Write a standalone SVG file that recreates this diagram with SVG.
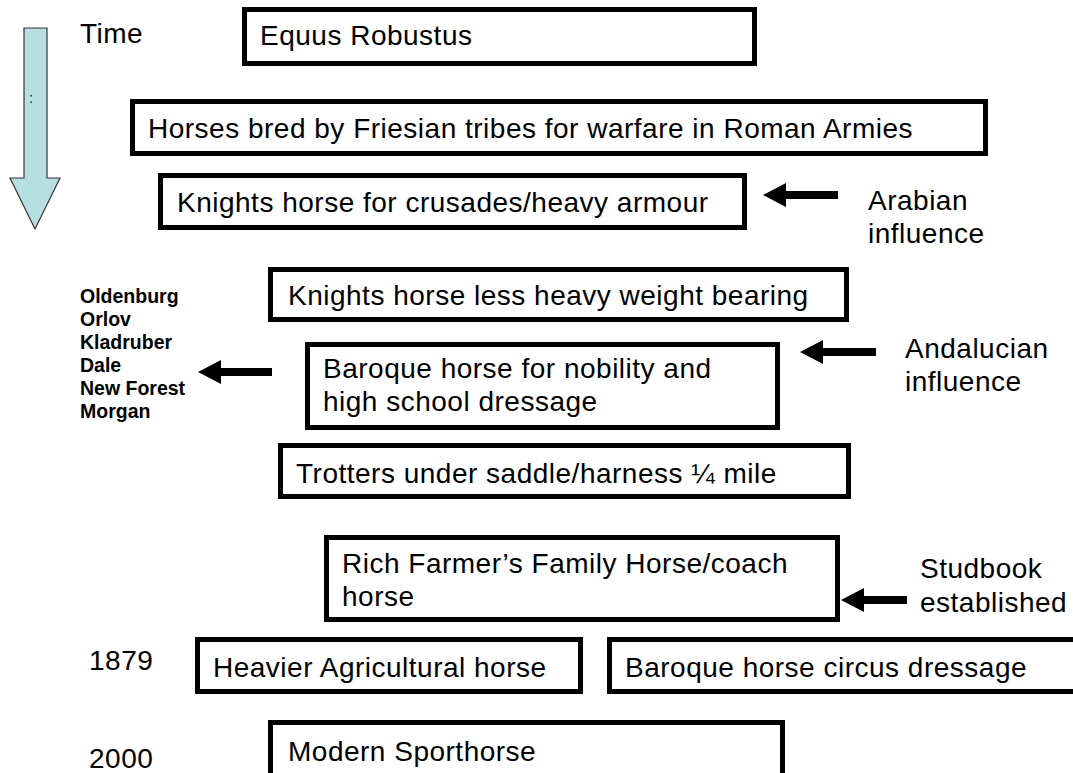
<svg xmlns="http://www.w3.org/2000/svg" width="1073" height="773" viewBox="0 0 1073 773">
<style>
.box{fill:#fff;stroke:#000;stroke-width:5}
.t{font-family:"Liberation Sans",Arial,sans-serif;font-size:28px;letter-spacing:0.5px;fill:#000}
.l{font-family:"Liberation Sans",Arial,sans-serif;font-size:19.5px;font-weight:bold;fill:#000}
.arr{fill:#000}
</style>
<rect width="1073" height="773" fill="#fff"/>
<g id="time-arrow">
<polygon points="24,28 47,28 47,178 60,178 35,229 10,178 24,178" fill="#b7dfe2" stroke="#333" stroke-width="1.2"/>
<text x="29" y="103" font-family="Liberation Sans,sans-serif" font-size="14">:</text>
</g>
<g id="time-label"><text class="t" x="80" y="43">Time</text></g>
<g id="n-equus"><rect class="box" x="244.5" y="9.5" width="510" height="54"/><text class="t" x="260" y="45">Equus Robustus</text></g>
<g id="n-horses"><rect class="box" x="132.5" y="101.5" width="853" height="52"/><text class="t" x="148" y="138">Horses bred by Friesian tribes for warfare in Roman Armies</text></g>
<g id="n-crusades"><rect class="box" x="160.5" y="175.5" width="584" height="52"/><text class="t" x="177" y="212">Knights horse for crusades/heavy armour</text></g>
<g id="n-lessheavy"><rect class="box" x="270.5" y="269.5" width="576" height="50"/><text class="t" x="288" y="305">Knights horse less heavy weight bearing</text></g>
<g id="n-baroque"><rect class="box" x="307.5" y="344.5" width="470" height="83"/><text class="t" x="323" y="378">Baroque horse for nobility and</text><text class="t" x="323" y="411">high school dressage</text></g>
<g id="n-trotters"><rect class="box" x="280.5" y="445.5" width="568" height="51"/><text class="t" x="296" y="483">Trotters under saddle/harness ¼ mile</text></g>
<g id="n-richfarmer"><rect class="box" x="326.5" y="537.5" width="511" height="82"/><text class="t" x="342" y="573">Rich Farmer’s Family Horse/coach</text><text class="t" x="342" y="606">horse</text></g>
<g id="n-heavier"><rect class="box" x="197.5" y="639.5" width="383" height="52"/><text class="t" x="213" y="677">Heavier Agricultural horse</text></g>
<g id="n-circus"><rect class="box" x="609.5" y="639.5" width="470" height="52"/><text class="t" x="625" y="677">Baroque horse circus dressage</text></g>
<g id="n-modern"><rect class="box" x="270.5" y="722.5" width="512" height="70"/><text class="t" x="288" y="761">Modern Sporthorse</text></g>
<g id="n-arabian"><text class="t" x="868" y="210">Arabian</text><text class="t" x="868" y="243">influence</text></g>
<g id="n-andalucian"><text class="t" x="905" y="358">Andalucian</text><text class="t" x="905" y="391">influence</text></g>
<g id="n-studbook"><text class="t" x="920" y="578">Studbook</text><text class="t" x="920" y="612">established</text></g>
<g id="n-breeds"><text class="l" x="80" y="303">Oldenburg</text><text class="l" x="80" y="326">Orlov</text><text class="l" x="80" y="349">Kladruber</text><text class="l" x="80" y="372">Dale</text><text class="l" x="80" y="395">New Forest</text><text class="l" x="80" y="418">Morgan</text></g>
<g id="n-1879"><text class="t" x="89" y="670">1879</text></g>
<g id="n-2000"><text class="t" x="89" y="768">2000</text></g>
<g id="connectors">
<polygon class="arr" points="763,195 786,183 786,191 838,191 838,199 786,199 786,207"/>
<polygon class="arr" points="800,352 823,340 823,348 876,348 876,356 823,356 823,364"/>
<polygon class="arr" points="198,372 221,360 221,368 272,368 272,376 221,376 221,384"/>
<polygon class="arr" points="841,600 864,588 864,596 907,596 907,604 864,604 864,612"/>
</g>
</svg>
